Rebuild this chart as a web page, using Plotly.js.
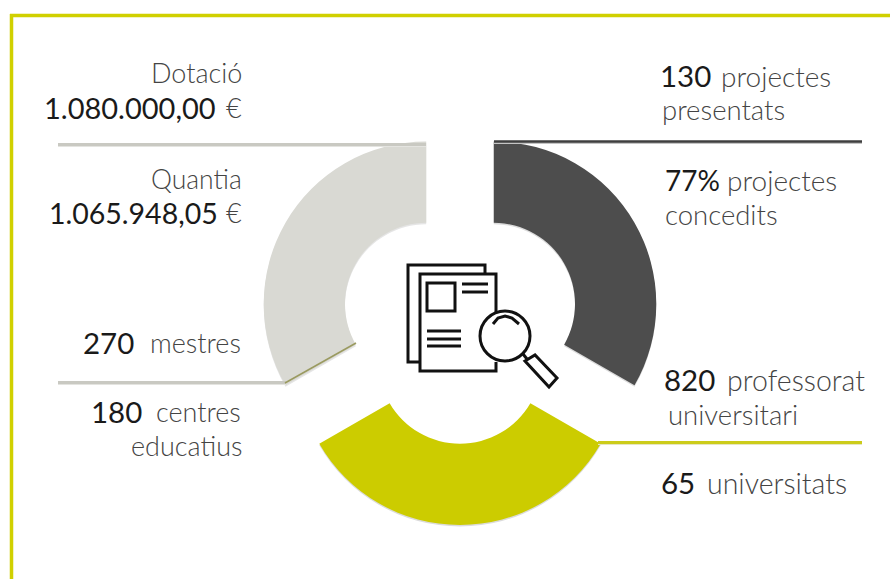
<!DOCTYPE html>
<html><head><meta charset="utf-8">
<script src="https://cdn.plot.ly/plotly-3.0.1.min.js"></script>
<style>html,body{margin:0;padding:0;background:#fff}#c{width:890px;height:579px}</style></head>
<body><div id="c"></div>
<script>
const W=890,H=579;
const sliceNames=['Professorat','Universitats','Centres'];
const sliceValues=[1,1,1];
const sliceColors=['#4d4d4d','#cccc00','#d9d9d3'];
const shadowColors=['rgba(0,0,0,0.14)','rgba(0,0,0,0.14)','rgba(0,0,0,0.10)'];
const labelsLight=[
 ['Dotació',243,73,'right',27],['Quantia',243,179,'right',26.5],['€',243,107,'right',27],['€',243,213,'right',27],
 ['mestres',242,342.5,'right',27],['centres',242,411,'right',27],['educatius',243,445,'right',27],
 ['projectes',720,76,'left',28],['presentats',661,109.5,'left',27.5],
 ['projectes',726,180,'left',28],['concedits',664,214,'left',27.5],
 ['professorat',726,379.5,'left',28.5],['universitari',667,414,'left',27.5],
 ['universitats',706,482.5,'left',28.5]];
const labelsBold=[
 ['1.080.000,00',217,107,'right',29],['1.065.948,05',219,213,'right',28.5],
 ['270',135,342.5,'right',29.5],['180',143,411,'right',29.5],
 ['130',712,76,'right',29.5],['77%',721,180,'right',28],['820',716,379.5,'right',29.5],['65',696,482.5,'right',29.5]];
const px=x=>x/W, py=y=>1-y/H;
const path=(pts,close)=>'M'+pts.map(p=>px(p[0])+','+py(p[1])).join(' L')+(close?' Z':'');
const line=(x0,y0,x1,y1,c,w)=>({type:'line',xref:'paper',yref:'paper',x0:px(x0),x1:px(x1),y0:py(y0),y1:py(y1),line:{color:c,width:w}});
const poly=(pts,close,fill)=>({type:'path',xref:'paper',yref:'paper',path:path(pts,close),fillcolor:fill||'rgba(0,0,0,0)',line:{color:'#111',width:3}});
function circle(cx,cy,r){return {type:'circle',xref:'paper',yref:'paper',x0:px(cx-r),x1:px(cx+r),y0:py(cy+r),y1:py(cy-r),fillcolor:'#fff',line:{color:'#111',width:3}};}
const shapes=[
 line(10,15.5,890,15.5,'#d0d000',3.5),line(11.5,14,11.5,579,'#d0d000',3.5),
 line(58,146,426,146,'#e4e4e0',2),line(58,144.5,426,144.5,'#c9c9c2',3),
 line(494,143,862,143,'#c4c4c4',2),line(494,141.5,862,141.5,'#3f3f3f',2.5),
 line(58,384,286,384,'#e4e4e0',2),line(58,382.5,286,382.5,'#c9c9c2',3),
 line(598,444,862,444,'#e6e6c0',2),line(598,442.5,862,442.5,'#cccc1a',3),
 line(285,383,356,343,'#9a9a60',1.5),
 poly([[485,274],[485,265],[408,265],[408,362],[420,362]],false),
 poly([[496,312],[496,274],[420,274],[420,371],[496,371],[496,362]],false),
 poly([[427,283],[455,283],[455,311],[427,311]],true),
 line(462,284,488,284,'#111',3),line(462,292,488,292,'#111',3),
 line(427,331,461,331,'#111',3),line(427,339,461,339,'#111',3),line(427,346,461,346,'#111',3),
 line(523,354,527,359,'#111',3),
 poly([[525,361],[535,355],[557,378],[549,387]],true,'#fff'),
 circle(505,336,25),
 poly([[493,324],[498,318],[505,316],[512,318],[519,324]],false)
];
const mk=(a,color,weight)=>a.map(t=>({xref:'paper',yref:'paper',x:px(t[1]),y:py(t[2]),text:t[0],xanchor:t[3],yanchor:'middle',showarrow:false,borderpad:0,font:{family:'Lato',size:t[4],color:color,weight:weight}}));
const annotations=mk(labelsLight,'#444',300).concat(mk(labelsBold,'#1a1a1a',400));
const cx=460,cy=323.5,Rd=201.5;
const dom=(dy)=>({x:[(cx-Rd)/W,(cx+Rd)/W],y:[1-(cy+dy+Rd)/H,1-(cy+dy-Rd)/H]});
const base={type:'pie',values:sliceValues,labels:sliceNames,sort:false,direction:'clockwise',rotation:0,hole:0.5,pull:0.24,textinfo:'none',hoverinfo:'skip'};
Plotly.newPlot('c',[
 Object.assign({},base,{marker:{colors:shadowColors,line:{width:0}},domain:dom(1.5)}),
 Object.assign({},base,{hoverinfo:'label',marker:{colors:sliceColors,line:{width:0}},domain:dom(0)})],
 {width:W,height:H,margin:{l:0,r:0,t:0,b:0},showlegend:false,paper_bgcolor:'#fff',shapes:shapes,annotations:annotations},
 {displayModeBar:false,staticPlot:true});
</script></body></html>
